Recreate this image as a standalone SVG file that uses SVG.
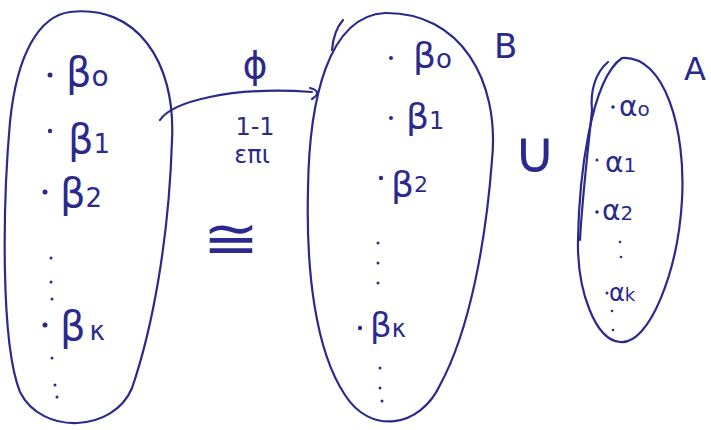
<svg xmlns="http://www.w3.org/2000/svg" width="711" height="430" viewBox="0 0 711 430">
<defs>
<style>
.ln{fill:none;stroke:#2b2a8c;stroke-width:2.2;stroke-linecap:round;stroke-linejoin:round}
.t{fill:#2b2a8c;font-family:"DejaVu Sans","Liberation Sans",sans-serif}
.d{fill:#2b2a8c}
</style>
</defs>
<rect width="711" height="430" fill="#ffffff"/>
<g id="setLeft">
<path class="ln" d="M70,12 C135,4 176,60 172,140 C169,240 152,330 132,388 C114,432 42,436 20,392 C0,342 3,200 10,122 C17,52 40,16 70,12 Z"/>
<circle class="d" cx="50" cy="75" r="2.5"/>
<text class="t" x="66" y="86" font-size="40">β<tspan font-size="28">o</tspan></text>
<circle class="d" cx="50" cy="131" r="2.2"/>
<text class="t" x="68" y="153" font-size="40">β<tspan font-size="26">1</tspan></text>
<circle class="d" cx="45" cy="192" r="2.5"/>
<text class="t" x="60" y="207" font-size="40">β<tspan font-size="26">2</tspan></text>
<circle class="d" cx="51" cy="258" r="1.5"/><circle class="d" cx="51" cy="282" r="1.5"/><circle class="d" cx="52" cy="299" r="1.5"/>
<circle class="d" cx="45" cy="325" r="2.5"/>
<text class="t" x="60" y="340" font-size="40">β<tspan font-size="26" dx="4">κ</tspan></text>
<circle class="d" cx="52" cy="358" r="1.5"/><circle class="d" cx="55" cy="385" r="1.5"/><circle class="d" cx="57" cy="397" r="1.5"/>
</g>
<g id="setB">
<path class="ln" d="M385,13 C460,12 500,80 492,160 C486,240 470,330 440,385 C420,428 370,435 345,395 C315,350 306,270 308,190 C309,100 328,16 385,13 Z"/>
<path class="ln" d="M343,20 C336,28 333,38 332,50"/>
<circle class="d" cx="391" cy="58" r="2"/>
<text class="t" x="413" y="68" font-size="36">β<tspan font-size="26">o</tspan></text>
<circle class="d" cx="391" cy="118" r="2"/>
<text class="t" x="406" y="129" font-size="36">β<tspan font-size="24">1</tspan></text>
<circle class="d" cx="381" cy="178" r="2.2"/>
<text class="t" x="391" y="197" font-size="36">β<tspan font-size="22" dy="-5">2</tspan></text>
<circle class="d" cx="378" cy="243" r="1.5"/><circle class="d" cx="378" cy="263" r="1.5"/><circle class="d" cx="378" cy="283" r="1.5"/>
<circle class="d" cx="360" cy="328" r="2.2"/>
<text class="t" x="370" y="337" font-size="34">β<tspan font-size="24">κ</tspan></text>
<circle class="d" cx="380" cy="368" r="1.5"/><circle class="d" cx="380" cy="388" r="1.5"/><circle class="d" cx="382" cy="401" r="1.5"/>
<text class="t" x="494" y="58" font-size="34">B</text>
</g>
<g id="setA">
<path class="ln" d="M622,58 C665,55 686,130 682,200 C678,270 650,345 620,342 C595,340 577,290 578,240 C579,180 590,80 622,58 Z"/>
<path class="ln" d="M608,62 C596,72 590,90 592,110 C588,150 582,200 580,240"/>
<circle class="d" cx="613" cy="107" r="1.8"/>
<text class="t" x="619" y="116" font-size="28">α<tspan font-size="20">o</tspan></text>
<circle class="d" cx="597" cy="160" r="1.5"/>
<text class="t" x="605" y="172" font-size="28">α<tspan font-size="20">1</tspan></text>
<circle class="d" cx="597" cy="212" r="1.8"/>
<text class="t" x="602" y="220" font-size="28">α<tspan font-size="20">2</tspan></text>
<circle class="d" cx="620" cy="242" r="1.3"/><circle class="d" cx="621" cy="257" r="1.3"/>
<circle class="d" cx="607" cy="293" r="1.5"/>
<text class="t" x="609" y="301" font-size="24">α<tspan font-size="18">k</tspan></text>
<circle class="d" cx="612" cy="311" r="1.3"/><circle class="d" cx="613" cy="330" r="1.3"/>
<text class="t" x="684" y="80" font-size="32">A</text>
</g>
<g id="relations">
<text class="t" x="535" y="172" font-size="58" text-anchor="middle">∪</text>
<text class="t" x="0" y="0" font-size="40" text-anchor="middle" transform="translate(231 258) scale(1.7 1.4)">≅</text>
</g>
<g id="connectors">
<path class="ln" d="M160,120 C172,102 230,86 312,92"/>
<path class="ln" d="M310,88 C318,90 320,94 312,99"/>
<text class="t" x="255" y="78" font-size="38" text-anchor="middle">ϕ</text>
<text class="t" x="255" y="135" font-size="24" text-anchor="middle">1-1</text>
<text class="t" x="252" y="163" font-size="24" text-anchor="middle">επι</text>
</g>
</svg>
